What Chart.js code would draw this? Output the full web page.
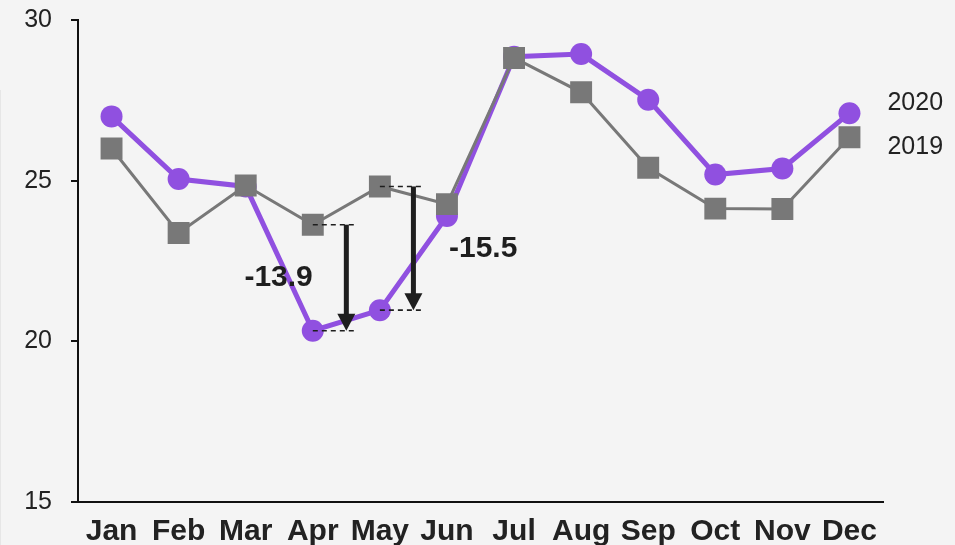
<!DOCTYPE html>
<html>
<head>
<meta charset="utf-8">
<script src="https://cdn.jsdelivr.net/npm/chart.js@4"></script>
<style>
  html, body { margin: 0; padding: 0; background: #f4f4f4; }
  #wrap { width: 955px; height: 545px; }
</style>
</head>
<body>
<div id="wrap"><canvas id="chart" width="955" height="545"></canvas></div>
<script>
// data
const months = ['Jan', 'Feb', 'Mar', 'Apr', 'May', 'Jun', 'Jul', 'Aug', 'Sep', 'Oct', 'Nov', 'Dec'];
const values2019 = [26.0, 23.37, 24.85, 23.63, 24.82, 24.27, 28.82, 27.75, 25.4, 24.13, 24.12, 26.35];
const values2020 = [27.0, 25.05, 24.82, 20.33, 20.97, 23.9, 28.86, 28.94, 27.52, 25.19, 25.38, 27.1];
const yTicks = [15, 20, 25, 30];
// drops marked with arrows: month index and label
const drops = [
    { month: 3, label: '-13.9', side: 'left' },
    { month: 4, label: '-15.5', side: 'right' }
];

const purple = '#9050e0';
const grey = '#787878';
const ink = '#1e1e1e';

// background + arrows + end labels
const extras = {
    id: 'extras',
    beforeDraw(chart) {
        const ctx = chart.ctx;
        ctx.save();
        ctx.fillStyle = '#f4f4f4';
        ctx.fillRect(0, 0, chart.width, chart.height);
        // faint panel edge on the far left
        ctx.fillStyle = '#e6e6e6';
        ctx.fillRect(0, 90, 1, chart.height - 90);
        ctx.restore();
    },
    afterDatasetsDraw(chart) {
        const ctx = chart.ctx;
        const x = chart.scales.x;
        const y = chart.scales.y;
        ctx.save();
        drops.forEach(d => {
            const px = x.getPixelForValue(d.month);
            const ax = (px + x.getPixelForValue(d.month + 1)) / 2;
            const yTop = y.getPixelForValue(values2019[d.month]);
            const yBot = y.getPixelForValue(values2020[d.month]);

            // dashed guides
            ctx.strokeStyle = ink;
            ctx.lineWidth = 1.6;
            ctx.setLineDash([5, 4]);
            [yTop, yBot].forEach(yy => {
                ctx.beginPath();
                ctx.moveTo(px, yy);
                ctx.lineTo(ax + 9, yy);
                ctx.stroke();
            });
            ctx.setLineDash([]);

            // arrow
            ctx.lineWidth = 5;
            ctx.beginPath();
            ctx.moveTo(ax, yTop);
            ctx.lineTo(ax, yBot - 14);
            ctx.stroke();
            ctx.fillStyle = ink;
            ctx.beginPath();
            ctx.moveTo(ax - 9, yBot - 17);
            ctx.lineTo(ax + 9, yBot - 17);
            ctx.lineTo(ax, yBot);
            ctx.closePath();
            ctx.fill();

            // label
            ctx.font = 'bold 30px "Liberation Sans", Arial, sans-serif';
            ctx.textBaseline = 'middle';
            const my = (yTop + yBot) / 2;
            if (d.side === 'left') {
                ctx.textAlign = 'right';
                ctx.fillText(d.label, px, my);
            } else {
                ctx.textAlign = 'left';
                const jx = x.getPixelForValue(d.month + 1);
                ctx.fillText(d.label, jx + 2, my);
            }
        });

        // series names at the end of the lines
        const last = months.length - 1;
        const lx = x.getPixelForValue(last) + 38;
        ctx.font = '25px "Liberation Sans", Arial, sans-serif';
        ctx.fillStyle = '#222';
        ctx.textAlign = 'left';
        ctx.textBaseline = 'middle';
        ctx.fillText('2020', lx, y.getPixelForValue(values2020[last]) - 10);
        ctx.fillText('2019', lx, y.getPixelForValue(values2019[last]) + 10);
        ctx.restore();
    }
};

window.onload = function() {
    const ctx = document.getElementById('chart').getContext('2d');
    new Chart(ctx, {
        type: 'line',
        data: {
            labels: months,
            datasets: [{
                label: '2019',
                data: values2019,
                borderColor: grey,
                backgroundColor: grey,
                borderWidth: 3,
                pointStyle: 'rect',
                pointRadius: 15.5,
                pointBorderWidth: 0,
                tension: 0
            }, {
                label: '2020',
                data: values2020,
                borderColor: purple,
                backgroundColor: purple,
                borderWidth: 5,
                pointStyle: 'circle',
                pointRadius: 11,
                pointBorderWidth: 0,
                tension: 0
            }]
        },
        options: {
            responsive: false,
            animation: false,
            layout: { padding: { top: 20, right: 72, left: 0, bottom: 0 } },
            plugins: {
                legend: { display: false },
                tooltip: { enabled: false }
            },
            scales: {
                x: {
                    offset: true,
                    grid: { display: false, drawTicks: false, offset: true },
                    border: { display: true, color: '#111', width: 2 },
                    ticks: {
                        color: '#222',
                        padding: 12,
                        maxRotation: 0,
                        autoSkip: false,
                        font: { family: '"Liberation Sans", Arial, sans-serif', size: 30, weight: 'bold' }
                    },
                    afterFit(scale) { scale.height = 43; scale.paddingLeft = 0; scale.paddingRight = 0; }
                },
                y: {
                    min: 15,
                    max: 30,
                    afterBuildTicks(scale) { scale.ticks = yTicks.map(v => ({ value: v })); },
                    grid: { drawOnChartArea: false, drawTicks: true, tickLength: 7, color: '#111', lineWidth: 2 },
                    border: { display: true, color: '#111', width: 2 },
                    ticks: {
                        color: '#222',
                        padding: 19,
                        font: { family: '"Liberation Sans", Arial, sans-serif', size: 25 }
                    },
                    afterFit(scale) { scale.width = 78; scale.paddingTop = 0; scale.paddingBottom = 0; }
                }
            }
        },
        plugins: [extras]
    });
};
</script>
</body>
</html>
